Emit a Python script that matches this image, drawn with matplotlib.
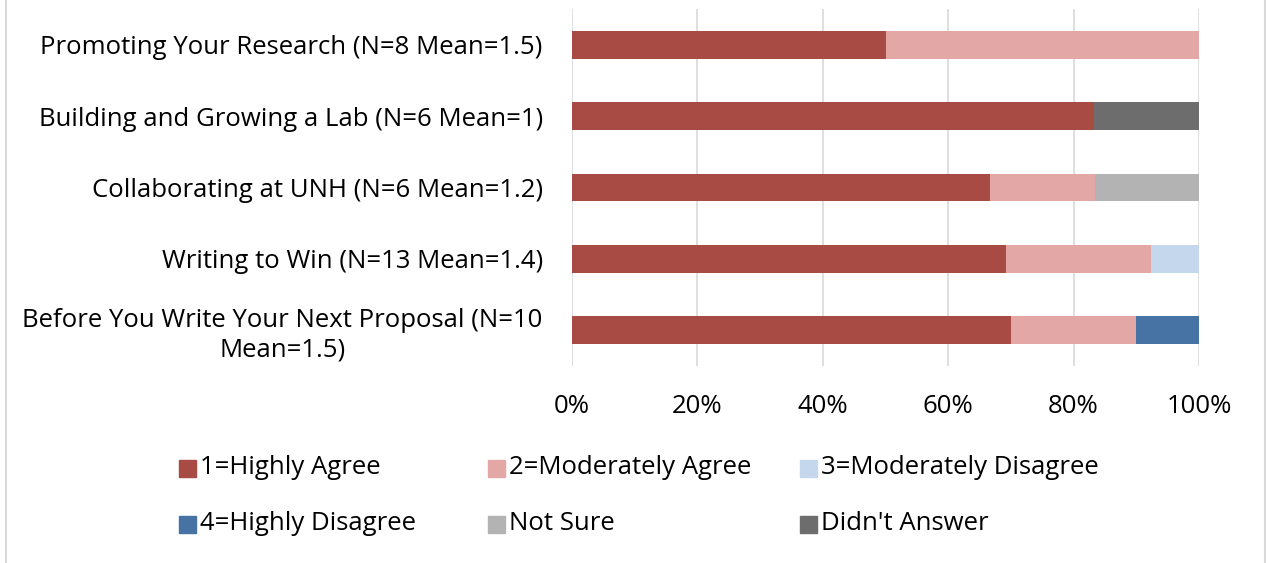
import matplotlib.pyplot as plt
import matplotlib.patches as mpatches
import numpy as np

plt.rcParams['font.family'] = ['Open Sans', 'DejaVu Sans']

# survey results, top to bottom
categories = ['Promoting Your Research (N=8 Mean=1.5)',
              'Building and Growing a Lab (N=6 Mean=1)',
              'Collaborating at UNH (N=6 Mean=1.2)',
              'Writing to Win (N=13 Mean=1.4)',
              'Before You Write Your Next Proposal (N=10\nMean=1.5)']
series_names = ['1=Highly Agree', '2=Moderately Agree', '3=Moderately Disagree',
                '4=Highly Disagree', 'Not Sure', "Didn't Answer"]
highly_agree = [0.50, 0.833, 0.667, 0.692, 0.70]
moderately_agree = [0.50, 0.0, 0.167, 0.231, 0.20]
moderately_disagree = [0.0, 0.0, 0.0, 0.077, 0.0]
highly_disagree = [0.0, 0.0, 0.0, 0.0, 0.10]
not_sure = [0.0, 0.0, 0.166, 0.0, 0.0]
didnt_answer = [0.0, 0.167, 0.0, 0.0, 0.0]
xticks = [0, 0.2, 0.4, 0.6, 0.8, 1.0]
xticklabels = ['0%', '20%', '40%', '60%', '80%', '100%']

colors = ['#A84B45', '#E3A8A6', '#C5D7EC', '#4673A3', '#B3B3B3', '#6D6D6D']
series = [highly_agree, moderately_agree, moderately_disagree,
          highly_disagree, not_sure, didnt_answer]

fs = 18.5
W, H = 1266, 563
fig = plt.figure(figsize=(W / 100, H / 100), dpi=100)
ax = fig.add_axes([572 / W, 1 - 366 / H, 627 / W, 357 / H])

y = np.arange(len(categories))[::-1]
left = np.zeros(len(categories))
for vals, col, name in zip(series, colors, series_names):
    ax.barh(y, vals, left=left, height=0.39, color=col, label=name, zorder=3)
    left += np.array(vals)

ax.set_xlim(0, 1)
ax.set_ylim(-0.5, len(categories) - 0.5)
ax.set_xticks(xticks)
ax.set_xticklabels(xticklabels, fontsize=fs)
ax.set_yticks(y)
ax.set_yticklabels(categories, fontsize=fs)
for lab in ax.get_yticklabels():
    lab.set_multialignment('center')
ax.tick_params(axis='y', length=0, pad=21)
ax.tick_params(axis='x', length=0, pad=20)
ax.grid(axis='x', color='#D9D9D9', linewidth=1.2, zorder=0)
for s in ax.spines.values():
    s.set_visible(False)

# legend drawn by hand to match the spacing of the original
leg_x = [179, 488, 800]
leg_y = [468, 524]
for i, (name, col) in enumerate(zip(series_names, colors)):
    cx = leg_x[i % 3]
    cy = leg_y[i // 3]
    fig.patches.append(mpatches.Rectangle((cx / W, 1 - (cy + 8.5) / H), 17 / W, 17 / H,
                                          transform=fig.transFigure, color=col))
    fig.text((cx + 21) / W, 1 - cy / H, name, fontsize=fs, va='center', ha='left')

# chart frame
fig.patches.append(mpatches.Rectangle((5.5 / W, -0.01), 1259 / W, 1.02,
                                      transform=fig.transFigure, fill=False,
                                      edgecolor='#D9D9D9', linewidth=1.5))

fig.savefig('out.png', dpi=100)
